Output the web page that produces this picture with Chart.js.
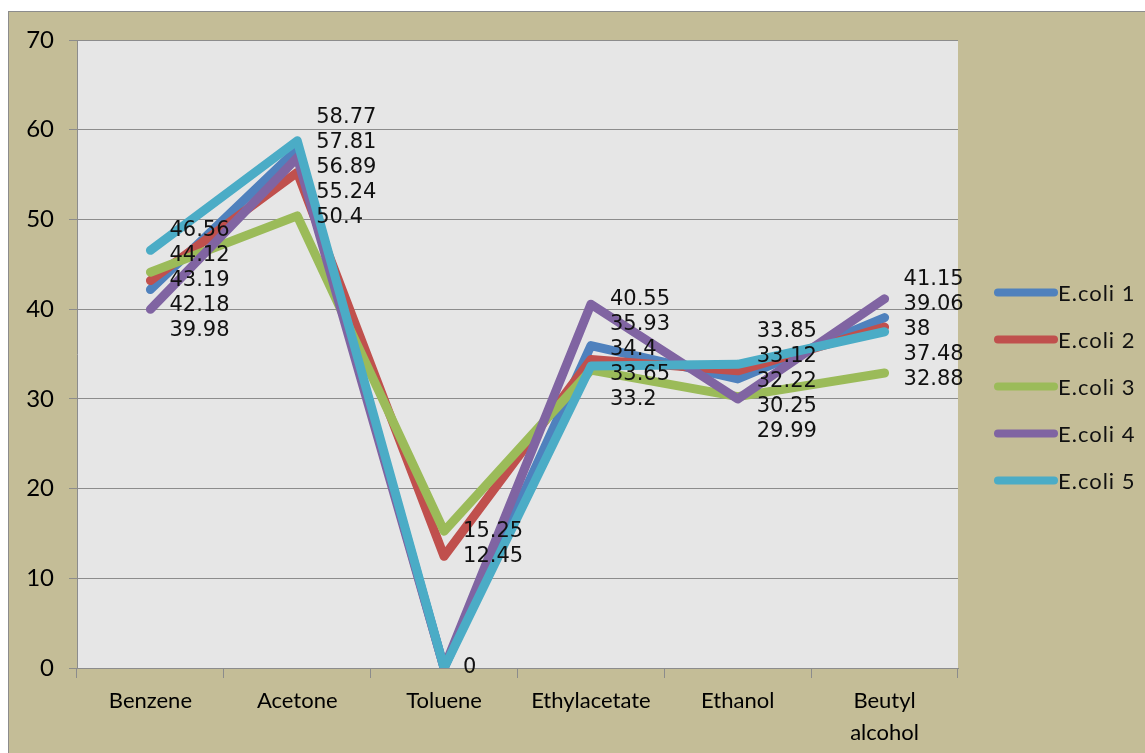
<!DOCTYPE html>
<html>
<head>
<meta charset="utf-8">
<script src="https://cdn.jsdelivr.net/npm/chart.js@4.4.1/dist/chart.umd.min.js"></script>
<style>
  html, body { margin: 0; padding: 0; background: #ffffff; }
  #wrap { width: 1145px; height: 753px; }
</style>
</head>
<body>
<div id="wrap"><canvas id="solventChart" width="1145" height="753"></canvas></div>
<script>
// data
const solvents = ['Benzene', 'Acetone', 'Toluene', 'Ethylacetate', 'Ethanol', ['Beutyl', 'alcohol']];
const ecoli1 = [42.18, 57.81, 0, 35.93, 32.22, 39.06];
const ecoli2 = [43.19, 55.24, 12.45, 34.4, 33.12, 38];
const ecoli3 = [44.12, 50.4, 15.25, 33.2, 30.25, 32.88];
const ecoli4 = [39.98, 56.89, 0, 40.55, 29.99, 41.15];
const ecoli5 = [46.56, 58.77, 0, 33.65, 33.85, 37.48];
const seriesNames = ['E.coli 1', 'E.coli 2', 'E.coli 3', 'E.coli 4', 'E.coli 5'];
const yMin = 0;
const yMax = 70;
const yStep = 10;

const seriesValues = [ecoli1, ecoli2, ecoli3, ecoli4, ecoli5];
const colors = ['#4f81bd', '#c0504d', '#9bbb59', '#8064a2', '#4bacc6'];

// khaki frame + grey plot background
const frameBg = {
    id: 'frameBg',
    beforeDraw: function(chart) {
        const { ctx, chartArea, width, height } = chart;
        ctx.save();
        ctx.fillStyle = '#ffffff';
        ctx.fillRect(0, 0, width, height);
        ctx.fillStyle = '#c4bd97';
        ctx.fillRect(8, 11, width - 8, height - 11);
        ctx.strokeStyle = '#8c8c8c';
        ctx.lineWidth = 1;
        ctx.strokeRect(8.5, 11.5, width, height);
        ctx.fillStyle = '#e6e6e6';
        ctx.fillRect(chartArea.left, chartArea.top, chartArea.right - chartArea.left, chartArea.bottom - chartArea.top);
        ctx.restore();
    }
};

// value labels, stacked so they don't overlap
function stackLabels(items, gap) {
    const groups = [];
    items.forEach(function(it) {
        groups.push({ items: [it], sum: it.y });
        while (groups.length > 1) {
            const cur = groups[groups.length - 1];
            const prev = groups[groups.length - 2];
            const prevTop = prev.sum / prev.items.length - (prev.items.length - 1) * gap / 2;
            const curTop = cur.sum / cur.items.length - (cur.items.length - 1) * gap / 2;
            if (prevTop + prev.items.length * gap > curTop) {
                prev.items = prev.items.concat(cur.items);
                prev.sum += cur.sum;
                groups.pop();
            } else {
                break;
            }
        }
    });
    groups.forEach(function(g) {
        const top = g.sum / g.items.length - (g.items.length - 1) * gap / 2;
        g.items.forEach(function(it, k) { it.ly = top + k * gap; });
    });
}

const valueLabels = {
    id: 'valueLabels',
    afterDatasetsDraw: function(chart) {
        const { ctx } = chart;
        ctx.save();
        ctx.font = '21px "DejaVu Sans"';
        ctx.fillStyle = '#111111';
        ctx.textAlign = 'left';
        ctx.textBaseline = 'middle';
        solvents.forEach(function(_, i) {
            const items = [];
            chart.data.datasets.forEach(function(ds, d) {
                const pt = chart.getDatasetMeta(d).data[i];
                const v = ds.data[i];
                if (items.some(function(it) { return it.v === v; })) return;
                items.push({ v: v, x: pt.x, y: pt.y });
            });
            items.sort(function(a, b) { return a.y - b.y; });
            stackLabels(items, 25);
            items.forEach(function(it) {
                ctx.fillText(String(it.v), it.x + 19, it.ly);
            });
        });
        ctx.restore();
    }
};

// legend on the right
const sideLegend = {
    id: 'sideLegend',
    afterDraw: function(chart) {
        const { ctx, chartArea } = chart;
        const n = chart.data.datasets.length;
        const cy = chart.height / 2 + 10;
        const x0 = chartArea.right + 40;
        ctx.save();
        ctx.font = '22px Lato';
        ctx.letterSpacing = '1px';
        ctx.textBaseline = 'middle';
        ctx.fillStyle = '#111111';
        chart.data.datasets.forEach(function(ds, k) {
            const y = cy + (k - (n - 1) / 2) * 47;
            ctx.strokeStyle = ds.borderColor;
            ctx.lineWidth = 8;
            ctx.lineCap = 'round';
            ctx.beginPath();
            ctx.moveTo(x0, y);
            ctx.lineTo(x0 + 56, y);
            ctx.stroke();
            ctx.fillText(ds.label, x0 + 60, y + 1);
        });
        ctx.restore();
    }
};

const ctxSolvent = document.getElementById('solventChart').getContext('2d');
const solventChart = new Chart(ctxSolvent, {
    type: 'line',
    data: {
        labels: solvents,
        datasets: seriesValues.map(function(vals, i) {
            return {
                label: seriesNames[i],
                data: vals,
                borderColor: colors[i],
                backgroundColor: colors[i],
                borderWidth: 9,
                borderJoinStyle: 'round',
                borderCapStyle: 'round',
                pointRadius: 0,
                pointHoverRadius: 0,
                tension: 0,
                fill: false,
                order: seriesValues.length - i
            };
        })
    },
    options: {
        responsive: false,
        animation: false,
        layout: { padding: { left: 0, top: 40, right: 187, bottom: 0 } },
        plugins: {
            legend: { display: false },
            tooltip: { enabled: false }
        },
        scales: {
            x: {
                offset: true,
                afterFit: function(scale) { scale.height = 85; },
                grid: {
                    offset: true,
                    drawOnChartArea: false,
                    color: '#8c8c8c',
                    tickLength: 10
                },
                border: { color: '#8c8c8c' },
                ticks: {
                    color: '#000000',
                    font: { family: 'Lato', size: 22, lineHeight: 1.45 },
                    padding: 7,
                    maxRotation: 0,
                    minRotation: 0,
                    autoSkip: false
                }
            },
            y: {
                min: yMin,
                max: yMax,
                afterFit: function(scale) { scale.width = 77; },
                grid: {
                    color: '#8c8c8c',
                    tickLength: 8
                },
                border: { color: '#8c8c8c' },
                ticks: {
                    stepSize: yStep,
                    color: '#000000',
                    font: { family: 'Lato', size: 24 },
                    padding: 15
                }
            }
        }
    },
    plugins: [frameBg, valueLabels, sideLegend]
});
</script>
</body>
</html>
